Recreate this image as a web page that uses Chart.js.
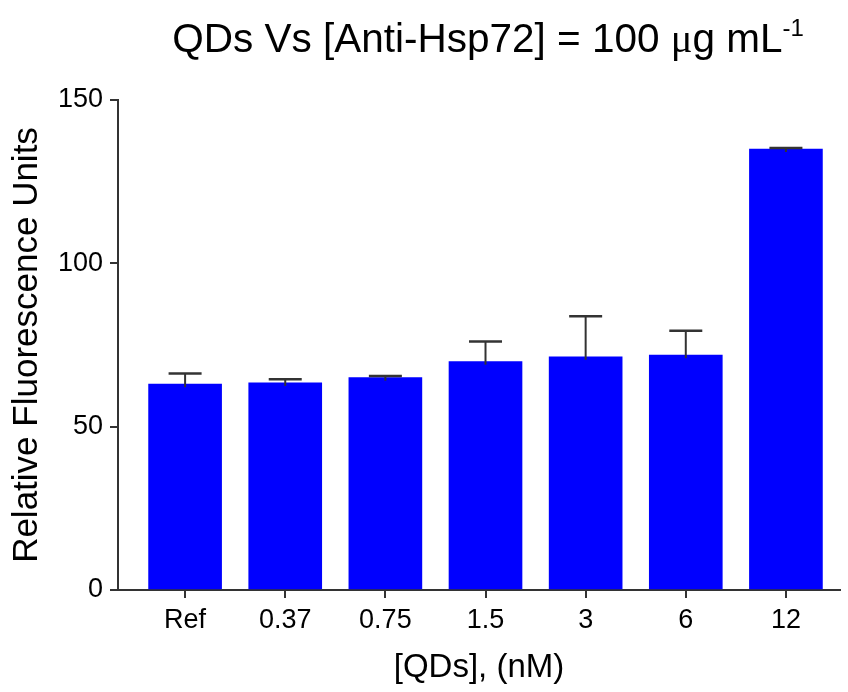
<!DOCTYPE html>
<html>
<head>
<meta charset="utf-8">
<script src="https://cdn.jsdelivr.net/npm/chart.js@4.4.0/dist/chart.umd.min.js"></script>
<style>
  html, body { margin: 0; padding: 0; background: #ffffff; }
  #wrap { width: 848px; height: 692px; position: relative; }
</style>
</head>
<body>
<div id="wrap"><canvas id="c" width="848" height="692"></canvas></div>
<script>
// ---- data ----
const categories = ["Ref", "0.37", "0.75", "1.5", "3", "6", "12"];
const meanValues = [63.0, 63.4, 65.0, 69.9, 71.4, 71.9, 135.0];
const errorValues = [3.3, 1.1, 0.5, 6.2, 12.4, 7.5, 0.3];
const yTickValues = [0, 50, 100, 150];

const FONT = "'Liberation Sans', Arial, Helvetica, sans-serif";
const AXIS_COLOR = '#333333';

const errorBarPlugin = {
  id: 'errorBars',
  afterDatasetsDraw(chart) {
    const xs = chart.scales.x, ys = chart.scales.y;
    const ctx = chart.ctx;
    ctx.save();
    ctx.strokeStyle = '#333333';
    meanValues.forEach((v, i) => {
      const x = xs.getPixelForValue(i);
      const yTop = ys.getPixelForValue(v + errorValues[i]);
      const yBar = ys.getPixelForValue(v);
      ctx.lineWidth = 2;
      ctx.beginPath();
      ctx.moveTo(x, yBar + 3);
      ctx.lineTo(x, yTop);
      ctx.stroke();
      ctx.lineWidth = 2.5;
      ctx.beginPath();
      ctx.moveTo(x - 16.5, yTop);
      ctx.lineTo(x + 16.5, yTop);
      ctx.stroke();
    });
    ctx.restore();
  }
};

const titlePlugin = {
  id: 'mainTitle',
  afterDraw(chart) {
    const ctx = chart.ctx;
    ctx.save();
    ctx.fillStyle = '#000000';
    ctx.textBaseline = 'alphabetic';
    const parts = [
      { t: 'QDs Vs [Anti-Hsp72] = 100 ', f: '40.5px ' + FONT, dy: 0 },
      { t: 'μ', f: '40.5px "Liberation Serif", serif', dy: 0 },
      { t: 'g mL', f: '40.5px ' + FONT, dy: 0 },
      { t: '-1', f: '24px ' + FONT, dy: -16 }
    ];
    let total = 0;
    parts.forEach(p => { ctx.font = p.f; p.w = ctx.measureText(p.t).width; total += p.w; });
    let x = 488 - total / 2;
    const base = 52;
    parts.forEach(p => {
      ctx.font = p.f;
      ctx.textAlign = 'left';
      ctx.fillText(p.t, x, base + p.dy);
      x += p.w;
    });
    ctx.restore();
  }
};

new Chart(document.getElementById('c'), {
  type: 'bar',
  data: {
    datasets: [{
      data: meanValues.map((v, i) => ({ x: i, y: v })),
      backgroundColor: '#0000FF',
      borderWidth: 0,
      barThickness: 73
    }]
  },
  options: {
    responsive: false,
    animation: false,
    events: [],
    layout: { padding: { top: 100, right: 8, left: 0, bottom: 0 } },
    plugins: { legend: { display: false }, tooltip: { enabled: false }, title: { display: false } },
    scales: {
      x: {
        type: 'linear',
        offset: false,
        min: -0.67,
        max: 6.54,
        afterBuildTicks(scale) { scale.ticks = categories.map((c, i) => ({ value: i })); },
        afterFit(scale) { scale.height = 102; },
        ticks: {
          autoSkip: false,
          maxRotation: 0,
          padding: 6,
          color: '#000000',
          font: { family: FONT, size: 27 },
          callback: (v) => categories[v]
        },
        grid: { display: true, offset: false, drawOnChartArea: false, drawTicks: true, tickLength: 8, color: AXIS_COLOR, lineWidth: 2 },
        border: { display: true, color: AXIS_COLOR, width: 2 },
        title: {
          display: true,
          text: '[QDs], (nM)',
          color: '#000000',
          font: { family: FONT, size: 33 },
          padding: { top: 0, bottom: 4 }
        }
      },
      y: {
        min: 0,
        max: 150,
        afterBuildTicks(scale) { scale.ticks = yTickValues.map(v => ({ value: v })); },
        afterFit(scale) { scale.width = 118; },
        ticks: {
          padding: 7,
          color: '#000000',
          font: { family: FONT, size: 27 }
        },
        grid: { display: true, drawOnChartArea: false, drawTicks: true, tickLength: 8, color: AXIS_COLOR, lineWidth: 2 },
        border: { display: true, color: AXIS_COLOR, width: 2 },
        title: {
          display: true,
          text: 'Relative Fluorescence Units',
          color: '#000000',
          font: { family: FONT, size: 35 },
          padding: { top: 6, bottom: 0 }
        }
      }
    }
  },
  plugins: [errorBarPlugin, titlePlugin]
});
</script>
</body>
</html>
